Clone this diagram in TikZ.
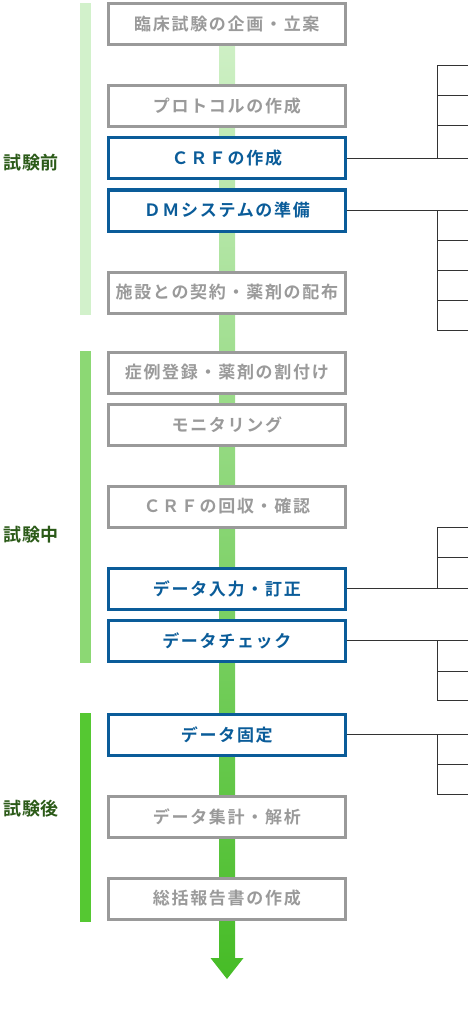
\documentclass[tikz,border=0pt]{standalone}
\usepackage{fontspec}
\newfontfamily\jpsp{Noto Sans CJK JP Bold}[LetterSpace=10]
\newfontfamily\jpb{Noto Sans CJK JP Bold}
\definecolor{boxgray}{HTML}{9A9A9A}
\definecolor{boxblue}{HTML}{0A5C99}
\definecolor{phasegreen}{HTML}{2B5A18}
\definecolor{linedark}{HTML}{333333}
\definecolor{barA}{HTML}{D2F1CB}
\definecolor{barB}{HTML}{8CD874}
\definecolor{barC}{HTML}{55C832}
\definecolor{arrowtop}{HTML}{D4F2CC}
\definecolor{arrowbot}{HTML}{46BC26}
\begin{document}
\begin{tikzpicture}[x=1pt,y=-1pt,
  box/.style={draw, line width=3pt, fill=white, minimum width=236.7pt, minimum height=41pt, inner sep=0pt, font=\jpsp\fontsize{17}{20}\selectfont},
  graybox/.style={box, draw=boxgray, text=boxgray},
  bluebox/.style={box, draw=boxblue, text=boxblue},
  phase/.style={text=phasegreen, inner sep=0pt, font=\jpb\fontsize{18}{21}\selectfont},
  link/.style={draw=linedark, line width=1pt}]
\useasboundingbox (0,0) rectangle (475,1019);
% central arrow
\shade[top color=arrowtop, bottom color=arrowbot]
  (219,3) -- (235,3) -- (235,958) -- (243.5,958) -- (227,979) -- (210.5,958) -- (219,958) -- cycle;
% phase bars
\fill[barA] (80,3) rectangle (91,315);
\fill[barB] (80,351) rectangle (91,663);
\fill[barC] (80,713) rectangle (91,922);
\node[phase] (p1) at (31,163) {試験前};
\node[phase] (p2) at (31,535) {試験中};
\node[phase] (p3) at (31,809) {試験後};
% boxes
\node[graybox] (b1) at (226.85,24.5) {臨床試験の企画・立案};
\node[graybox] (b2) at (226.85,106.5) {プロトコルの作成};
\node[bluebox] (crf) at (226.85,158.5) {ＣＲＦの作成};
\node[bluebox] (dm) at (226.85,210.5) {ＤＭシステムの準備};
\node[graybox] (b5) at (226.85,292.5) {施設との契約・薬剤の配布};
\node[graybox] (b6) at (226.85,372.5) {症例登録・薬剤の割付け};
\node[graybox] (b7) at (226.85,424.5) {モニタリング};
\node[graybox] (b8) at (226.85,506.5) {ＣＲＦの回収・確認};
\node[bluebox] (entry) at (226.85,588.5) {データ入力・訂正};
\node[bluebox] (check) at (226.85,640.5) {データチェック};
\node[bluebox] (lock) at (226.85,734.5) {データ固定};
\node[graybox] (b12) at (226.85,816.5) {データ集計・解析};
\node[graybox] (b13) at (226.85,898.5) {総括報告書の作成};
% right-side connectors
\coordinate (bx) at (437,0);
\coordinate (rx) at (468,0);
% CRF
\draw[link] (crf.east) -- (crf.east -| rx);
\draw[link] (crf.east -| bx) -- (bx |- 0,66);
\foreach \y in {66,96,126} \draw[link] (bx |- 0,\y) -- (rx |- 0,\y);
% DM
\draw[link] (dm.east) -- (dm.east -| rx);
\draw[link] (dm.east -| bx) -- (bx |- 0,330);
\foreach \y in {240,270,300,330} \draw[link] (bx |- 0,\y) -- (rx |- 0,\y);
% data entry
\draw[link] (entry.east) -- (entry.east -| rx);
\draw[link] (entry.east -| bx) -- (bx |- 0,527);
\foreach \y in {527,557} \draw[link] (bx |- 0,\y) -- (rx |- 0,\y);
% data check
\draw[link] (check.east) -- (check.east -| rx);
\draw[link] (check.east -| bx) -- (bx |- 0,700);
\foreach \y in {671,700} \draw[link] (bx |- 0,\y) -- (rx |- 0,\y);
% data lock
\draw[link] (lock.east) -- (lock.east -| rx);
\draw[link] (lock.east -| bx) -- (bx |- 0,794);
\foreach \y in {764,794} \draw[link] (bx |- 0,\y) -- (rx |- 0,\y);
\end{tikzpicture}
\end{document}
